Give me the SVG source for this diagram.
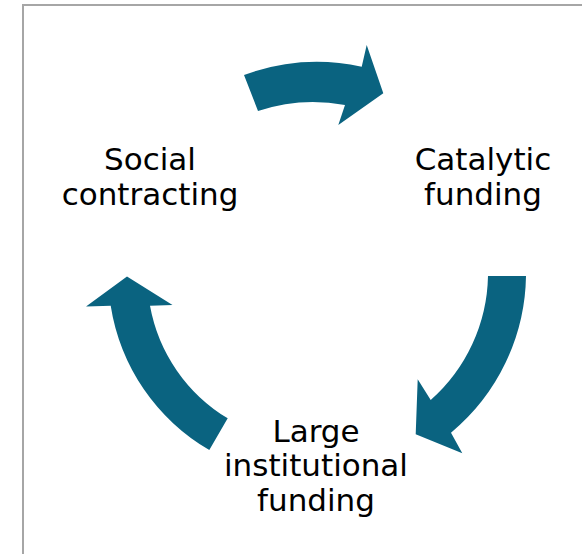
<svg xmlns="http://www.w3.org/2000/svg" width="582" height="554" viewBox="0 0 582 554">
  <style>
    .arrow { fill: #0a6380; stroke: none; }
    .label { font-family: "DejaVu Sans", Verdana, sans-serif; font-size: 31px; fill: #000000; text-anchor: middle; }
  </style>
  <rect x="0" y="0" width="582" height="554" fill="#ffffff"/>
  <rect x="23" y="5" width="620" height="620" fill="none" stroke="#a6a6a6" stroke-width="2"/>
  <g id="connectors">
    <path id="arrow-top" class="arrow" d="M 244,75 A 213 213 0 0 1 361.7,66.7 L 366.7,45 L 383.3,93.3 L 338.3,125 L 345,105 A 174 174 0 0 0 258,111 Z"/>
    <path id="arrow-right" class="arrow" d="M 526,276 A 208 208 0 0 1 451,432.7 L 462.3,453.3 L 415.7,434.3 L 417.7,379.3 L 430.7,400 A 170 170 0 0 0 488,276 Z"/>
    <path id="arrow-left" class="arrow" d="M 209.3,450 A 203 203 0 0 1 110.7,305.7 L 86,306.5 L 127,276.5 L 172.5,305 L 150,305.7 A 166 166 0 0 0 227.7,418.3 Z"/>
  </g>
  <g id="node-social">
    <text class="label" x="150" y="170">Social</text>
    <text class="label" x="150" y="205">contracting</text>
  </g>
  <g id="node-catalytic">
    <text class="label" x="483" y="170">Catalytic</text>
    <text class="label" x="483" y="205">funding</text>
  </g>
  <g id="node-large">
    <text class="label" x="316" y="442">Large</text>
    <text class="label" x="316" y="476">institutional</text>
    <text class="label" x="316" y="511">funding</text>
  </g>
</svg>
